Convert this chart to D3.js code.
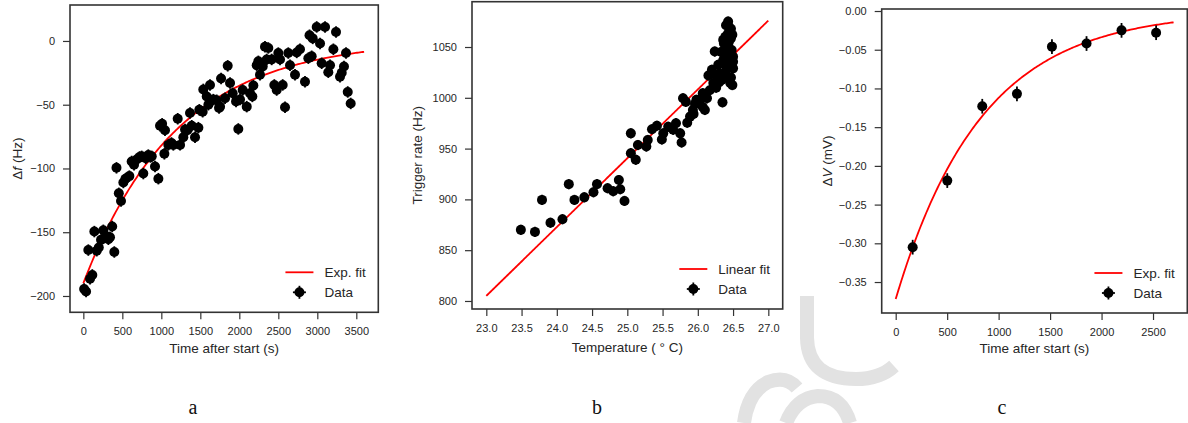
<!DOCTYPE html>
<html>
<head>
<meta charset="utf-8">
<script src="https://cdn.jsdelivr.net/npm/d3@7/dist/d3.min.js"></script>
<style>
  html, body { margin: 0; padding: 0; background: #fff; }
  svg { display: block; }
  text { font-family: "Liberation Sans", Arial, Helvetica, sans-serif; fill: #262626; }
  .cap { font-family: "Liberation Serif", "Times New Roman", serif; fill: #111; }
</style>
</head>
<body>
<svg id="chart" width="1188" height="423"></svg>
<script>
// ---------------- DATA ----------------
// Panel a: frequency shift vs time
const timeA = [10,35,64,86,115,141,172,198,227,256,291,321,342,370,397,425,455,483,513,540,590,620,650,684,720,748,769,800,833,860,877,919,962,983,1010,1039,1047,1090,1130,1154,1210,1240,1282,1304,1333,1368,1390,1432,1475,1487,1530,1538,1582,1603,1624,1667,1710,1740,1753,1766,1817,1851,1881,1915,1958,1987,2009,2043,2095,2137,2167,2180,2223,2244,2265,2300,2329,2351,2372,2415,2449,2479,2500,2522,2556,2586,2628,2650,2714,2736,2778,2842,2885,2900,2928,2941,2992,3035,3056,3099,3141,3163,3206,3240,3291,3313,3342,3368,3390,3428];
const dfA = [-194.5,-196.5,-164,-186.5,-183.5,-149.5,-164.5,-162,-156,-148.5,-153,-155.5,-154,-145.5,-165.5,-99.5,-119.5,-125.5,-111,-108,-106,-94.5,-97,-93,-91,-90.5,-104,-92,-89.5,-91,-90.5,-98.5,-108,-66.5,-65,-88.5,-70,-81.5,-80,-81.5,-61,-81.5,-75.5,-69.5,-70,-56.5,-66.5,-75.5,-68,-54,-55.5,-38,-43.5,-50,-34.5,-46,-46.5,-52.5,-51.5,-29.5,-45,-19.5,-33,-41,-47.5,-69,-46,-38.5,-51.5,-41,-43.5,-35,-19,-16,-26.5,-20,-4.5,-14.5,-5.5,-14.5,-34.5,-38.5,-9.5,-14.5,-34.5,-52,-9.5,-19,-26.5,-9,-6.5,-32,-13.5,4.5,-12,2,11,-2,-17.5,11,-24.5,-19,-6.5,7,-28,-25,-20,-9.5,-40,-49];
const errA = 4.5;                       // Hz
const fitA = { A: 1, B: -191, tau: 1200, t0: 0, t1: 3600 };   // Exp. fit: A + B*exp(-t/tau)
const xTicksA = [0,500,1000,1500,2000,2500,3000,3500];
const yTicksA = [-200,-150,-100,-50,0];

// Panel b: trigger rate vs temperature
const tempB = [23.49,23.69,23.79,23.91,24.08,24.17,24.25,24.39,24.52,24.57,24.72,24.80,24.88,24.90,24.96,25.05,25.05,25.12,25.15,25.27,25.29,25.35,25.42,25.49,25.51,25.58,25.65,25.69,25.75,25.77,25.79,25.83,25.85,25.89,25.93,25.94,25.96,25.98,26.03,26.07,26.07,26.10,26.13,26.15,26.17,26.20,26.22,26.24,26.26,26.27,26.29,26.30,26.31,26.33,26.34,26.35,26.36,26.36,26.37,26.38,26.39,26.39,26.40,26.41,26.41,26.42,26.43,26.43,26.43,26.44,26.44,26.45,26.46,26.46,26.47,26.47,26.47,26.48,26.48,26.49,26.49,26.50,26.50,26.50];
const rateB = [870,868,899.5,877,880.5,915,899.5,902,907,915,911,908,919,910,898.5,965,945.5,939,953.5,952,958.5,969,972.5,959,965,971.5,968.5,975,965,956,999.5,996,975.5,981.5,988,984,994,998,998,991,1004.5,988,999.5,1022,1007.5,1027.5,1014.5,1045.5,1010,1021,1032.5,1015,1024,1045,1017.5,995.5,1037,1057,1053.5,1040,1060,1025,1071.5,1021,1030,1045,1075,1050.5,1063.5,1055,1070,1035,1066.5,1014.5,1058.5,1068,1020,1047,1030.5,1012.5,1062,1040.5,1035.5,1029];
const errRateB = 5;       // Hz
const errTempB = 0.06;    // deg C
const fitB = { a: 805, b: 67.75, x0: 23.0, x1: 27.0 };  // Linear fit: a + b*(T-23)
const xTicksB = [23.0,23.5,24.0,24.5,25.0,25.5,26.0,26.5,27.0];
const yTicksB = [800,850,900,950,1000,1050];

// Panel c: voltage shift vs time
const timeC = [165,501,841,1178,1518,1854,2194,2530];
const dvC = [-0.305,-0.219,-0.123,-0.107,-0.046,-0.042,-0.025,-0.028];
const errC = 0.0095;      // mV
const fitC = { A: 0, B: -0.372, tau: 834, t0: 0, t1: 2700 };
const xTicksC = [0,500,1000,1500,2000,2500];
const yTicksC = [-0.35,-0.30,-0.25,-0.20,-0.15,-0.10,-0.05,0.00];

const captions = ["a","b","c"];

// ---------------- DRAW ----------------
const svg = d3.select("#chart");
const INK = "#262626", SPINE = "#333333", RED = "#ff0000";

// faint watermark strokes (background)
const wm = svg.append("g").attr("fill","none").attr("stroke","#e2e2e2").attr("stroke-width",14);
wm.append("path").attr("d","M807,296 L807,338 Q808,379 856,379 Q880,379 894,366");
wm.append("path").attr("d","M744,423 Q748,392 768,382 Q786,375 797,388");
wm.append("path").attr("d","M786,423 Q796,398 818,396 Q842,396 850,423");

function panel(cfg) {
  const g = svg.append("g");
  const x = d3.scaleLinear().domain(cfg.xDomain).range([cfg.fx0, cfg.fx1]);
  const y = d3.scaleLinear().domain(cfg.yDomain).range([cfg.fy1, cfg.fy0]);

  // axes
  const ax = g.append("g").attr("transform", `translate(0,${cfg.fy1})`)
    .call(d3.axisBottom(x).tickValues(cfg.xTicks).tickFormat(d3.format(cfg.xFmt)).tickSize(7).tickPadding(8));
  const ay = g.append("g").attr("transform", `translate(${cfg.fx0},0)`)
    .call(d3.axisLeft(y).tickValues(cfg.yTicks).tickFormat(d3.format(cfg.yFmt)).tickSize(7).tickPadding(8));
  [ax, ay].forEach(a => {
    a.select(".domain").remove();
    a.selectAll(".tick line").attr("stroke", SPINE).attr("stroke-width", 1.2);
    a.selectAll(".tick text").attr("font-size", 11).attr("fill", INK)
      .style("font-family", '"Liberation Sans", Arial, sans-serif');
  });

  // fit curve
  const fitPts = d3.range(0, 201).map(i => {
    const xv = cfg.fit.x0 + (cfg.fit.x1 - cfg.fit.x0) * i / 200;
    return [xv, cfg.fit.f(xv)];
  });
  g.append("path").datum(fitPts)
    .attr("fill","none").attr("stroke",RED).attr("stroke-width",1.8)
    .attr("d", d3.line().x(d => x(d[0])).y(d => y(d[1])));

  // data with error bars
  const pts = cfg.xs.map((xv, i) => ({ x: xv, y: cfg.ys[i] }));
  const pg = g.append("g");
  pts.forEach(p => {
    const cx = x(p.x), cy = y(p.y);
    pg.append("line").attr("x1",cx).attr("x2",cx)
      .attr("y1",y(p.y + cfg.yErr)).attr("y2",y(p.y - cfg.yErr))
      .attr("stroke","#000").attr("stroke-width",1.8);
    if (cfg.xErr) {
      pg.append("line").attr("y1",cy).attr("y2",cy)
        .attr("x1",x(p.x - cfg.xErr)).attr("x2",x(p.x + cfg.xErr))
        .attr("stroke","#000").attr("stroke-width",1.8);
    }
    pg.append("circle").attr("cx",cx).attr("cy",cy).attr("r",5).attr("fill","#000");
  });

  // frame
  g.append("rect").attr("x",cfg.fx0).attr("y",cfg.fy0)
    .attr("width",cfg.fx1-cfg.fx0).attr("height",cfg.fy1-cfg.fy0)
    .attr("fill","none").attr("stroke",SPINE).attr("stroke-width",1.6);

  // axis titles
  g.append("text").attr("x",(cfg.fx0+cfg.fx1)/2).attr("y",cfg.xTitleY)
    .attr("text-anchor","middle").attr("font-size",13.5).text(cfg.xTitle);
  const yt = g.append("text")
    .attr("transform",`translate(${cfg.yTitleX},${(cfg.fy0+cfg.fy1)/2}) rotate(-90)`)
    .attr("text-anchor","middle").attr("font-size",13.5);
  cfg.yTitle.forEach(part => {
    const ts = yt.append("tspan").text(part.t);
    if (part.i) ts.attr("font-style","italic");
  });

  // legend (right-aligned inside frame)
  const lg = g.append("g");
  const t1 = lg.append("text").attr("font-size",13.5).text(cfg.fitLabel);
  const t2 = lg.append("text").attr("font-size",13.5).text("Data");
  const w = Math.max(t1.node().getComputedTextLength(), 0);
  const textX = cfg.fx1 - 12.6 - w;
  const lineY = cfg.fy1 - 40, dataY = cfg.fy1 - 20;
  t1.attr("x",textX).attr("y",lineY+5);
  t2.attr("x",textX).attr("y",dataY+5);
  lg.append("line").attr("x1",textX-39).attr("x2",textX-11).attr("y1",lineY).attr("y2",lineY)
    .attr("stroke",RED).attr("stroke-width",1.8);
  const mx = textX - 25;
  lg.append("line").attr("x1",mx).attr("x2",mx).attr("y1",dataY-6.5).attr("y2",dataY+6.5)
    .attr("stroke","#000").attr("stroke-width",1.8);
  lg.append("line").attr("x1",mx-6.5).attr("x2",mx+6.5).attr("y1",dataY).attr("y2",dataY)
    .attr("stroke","#000").attr("stroke-width",1.8);
  lg.append("circle").attr("cx",mx).attr("cy",dataY).attr("r",5).attr("fill","#000");

  // caption
  svg.append("text").attr("class","cap").attr("x",cfg.capX).attr("y",414)
    .attr("text-anchor","middle").attr("font-size",20).text(cfg.caption);
}

panel({
  fx0:70, fx1:378.3, fy0:5, fy1:312.3,
  xDomain:[-171,3782], yDomain:[-212.8,28.2],
  xTicks:xTicksA, yTicks:yTicksA, xFmt:"d", yFmt:"d",
  xs:timeA, ys:dfA, yErr:errA, xErr:0,
  fit:{ x0:fitA.t0, x1:fitA.t1, f:t => fitA.A + fitA.B*Math.exp(-t/fitA.tau) },
  xTitle:"Time after start (s)", xTitleY:353,
  yTitle:[{t:"Δ"},{t:"f",i:true},{t:" (Hz)"}], yTitleX:21.5,
  fitLabel:"Exp. fit", caption:captions[0], capX:193
});

panel({
  fx0:472, fx1:782.7, fy0:1.7, fy1:309,
  xDomain:[22.797,27.204], yDomain:[792.1,1094.6],
  xTicks:xTicksB, yTicks:yTicksB, xFmt:".1f", yFmt:"d",
  xs:tempB, ys:rateB, yErr:errRateB, xErr:errTempB,
  fit:{ x0:fitB.x0, x1:fitB.x1, f:T => fitB.a + fitB.b*(T-23) },
  xTitle:"Temperature ( ° C)", xTitleY:351.5,
  yTitle:[{t:"Trigger rate (Hz)"}], yTitleX:422,
  fitLabel:"Linear fit", caption:captions[1], capX:597
});

panel({
  fx0:881.7, fx1:1187.3, fy0:9, fy1:313,
  xDomain:[-136,2833], yDomain:[-0.3900,0.0026],
  xTicks:xTicksC, yTicks:yTicksC, xFmt:"d", yFmt:".2f",
  xs:timeC, ys:dvC, yErr:errC, xErr:0,
  fit:{ x0:fitC.t0, x1:fitC.t1, f:t => fitC.A + fitC.B*Math.exp(-t/fitC.tau) },
  xTitle:"Time after start (s)", xTitleY:353,
  yTitle:[{t:"Δ"},{t:"V",i:true},{t:" (mV)"}], yTitleX:831.5,
  fitLabel:"Exp. fit", caption:captions[2], capX:1002
});
</script>
</body>
</html>
